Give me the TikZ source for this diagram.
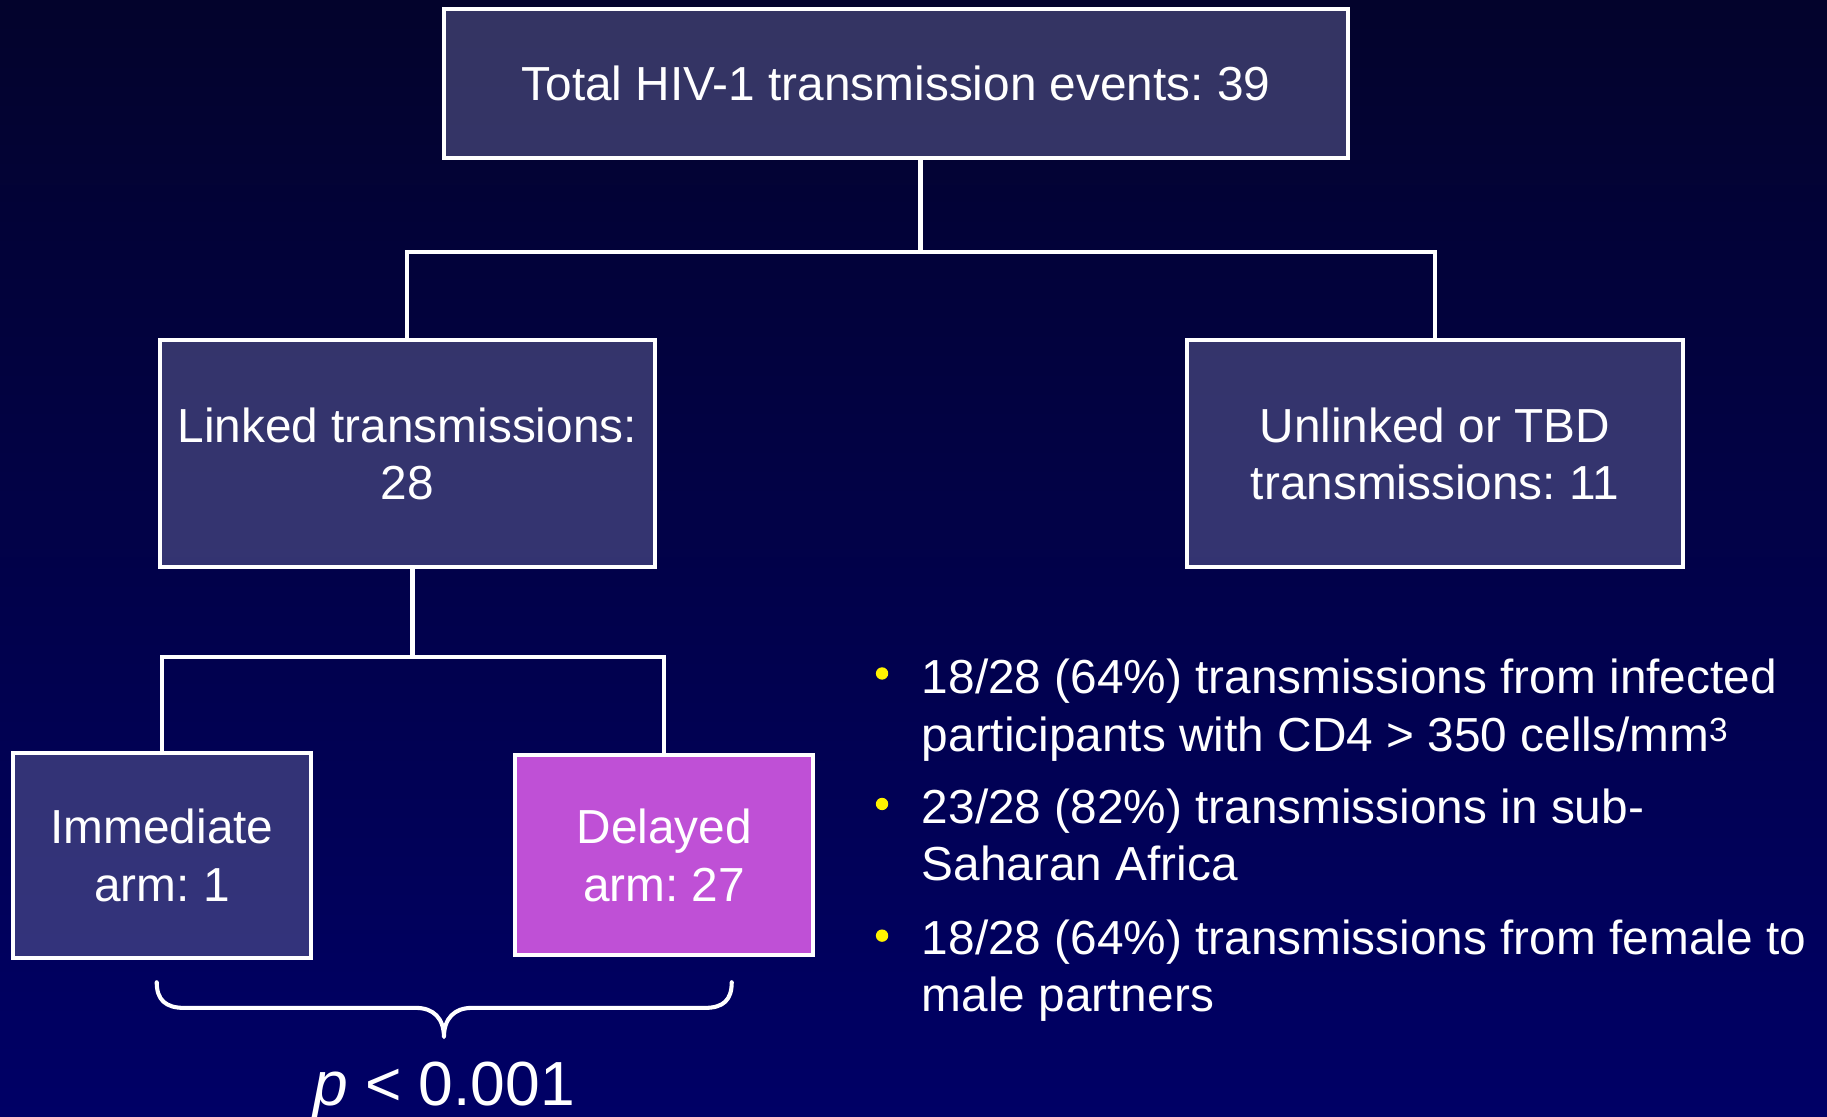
\documentclass[tikz,border=0pt]{standalone}
\usepackage{fontspec}
\setmainfont{Liberation Sans}
\frenchspacing
\definecolor{bgtop}{RGB}{3,3,44}
\definecolor{bgbot}{RGB}{0,0,102}
\definecolor{boxblue}{RGB}{102,102,153}
\definecolor{delayedfill}{RGB}{191,80,214}
\newcommand\boxfont{\fontsize{41}{49.5}\selectfont}
\newcommand\pvalfont{\fontsize{53.5}{60}\selectfont}
\begin{document}
\begin{tikzpicture}[x=1pt,y=-1pt,
  box/.style={draw=white, line width=3.5pt, fill=boxblue, fill opacity=0.5, draw opacity=1,
    text opacity=1, text=white, align=center, inner sep=0pt, font=\boxfont},
  conn/.style={draw=white, line width=3.5pt},
  btext/.style={anchor=base west, inner sep=0pt, text=white, font=\boxfont},
  bdot/.style={fill=yellow}]
\useasboundingbox (0,0) rectangle (1568,958);
\shade[top color=bgtop, bottom color=bgbot] (0,0) rectangle (1568,958);

% boxes
\node[box, minimum width=776pt, minimum height=128pt] (top) at (769,71.5) {Total HIV-1 transmission events: 39};
\node[box, minimum width=425pt, minimum height=195pt] (linked) at (349.5,389.5) {Linked transmissions:\\28};
\node[box, minimum width=425pt, minimum height=195pt] (unlinked) at (1231.5,389.5) {Unlinked or TBD\\transmissions: 11};
\node[box, minimum width=256pt, minimum height=176pt] (imm) at (139,734) {Immediate\\arm: 1};
\node[box, fill=delayedfill, fill opacity=1, minimum width=256pt, minimum height=172pt] (del) at (570,734) {Delayed\\arm: 27};

% connectors
\coordinate (j1) at (790,216);
\draw[conn] (top.south -| j1) -- (j1);
\draw[conn] (linked.north) |- (j1) -| (unlinked.north);
\coordinate (j2) at (354,564);
\draw[conn] (linked.south -| j2) -- (j2);
\draw[conn] (imm.north) |- (j2) -| (del.north);

% brace
\draw[conn, line cap=round, line join=round]
  (134.5,843) .. controls (134.5,858) and (142,865) .. (158,865) -- (357,865)
  .. controls (372,865) and (381,874) .. (381,890)
  .. controls (381,874) and (390,865) .. (405,865) -- (605,865)
  .. controls (621,865) and (628,858) .. (628,843);
\node[anchor=base, inner sep=0pt, text=white, font=\pvalfont] (pval) at (381,949) {\textit{p} < 0.001};

% bullets
\fill[bdot] (757,578) circle (5.3pt);
\fill[bdot] (757,690) circle (5.3pt);
\fill[bdot] (757,803) circle (5.3pt);
\node[btext] (b1a) at (791,595) {18/28 (64\%) transmissions from infected};
\node[btext] (b1b) at (791,645) {participants with CD4 > 350 cells/mm\textsuperscript{3}};
\node[btext] (b2a) at (791,707) {23/28 (82\%) transmissions in sub-};
\node[btext] (b2b) at (791,756) {Saharan Africa};
\node[btext] (b3a) at (791,819) {18/28 (64\%) transmissions from female to};
\node[btext] (b3b) at (791,868) {male partners};
\end{tikzpicture}
\end{document}
